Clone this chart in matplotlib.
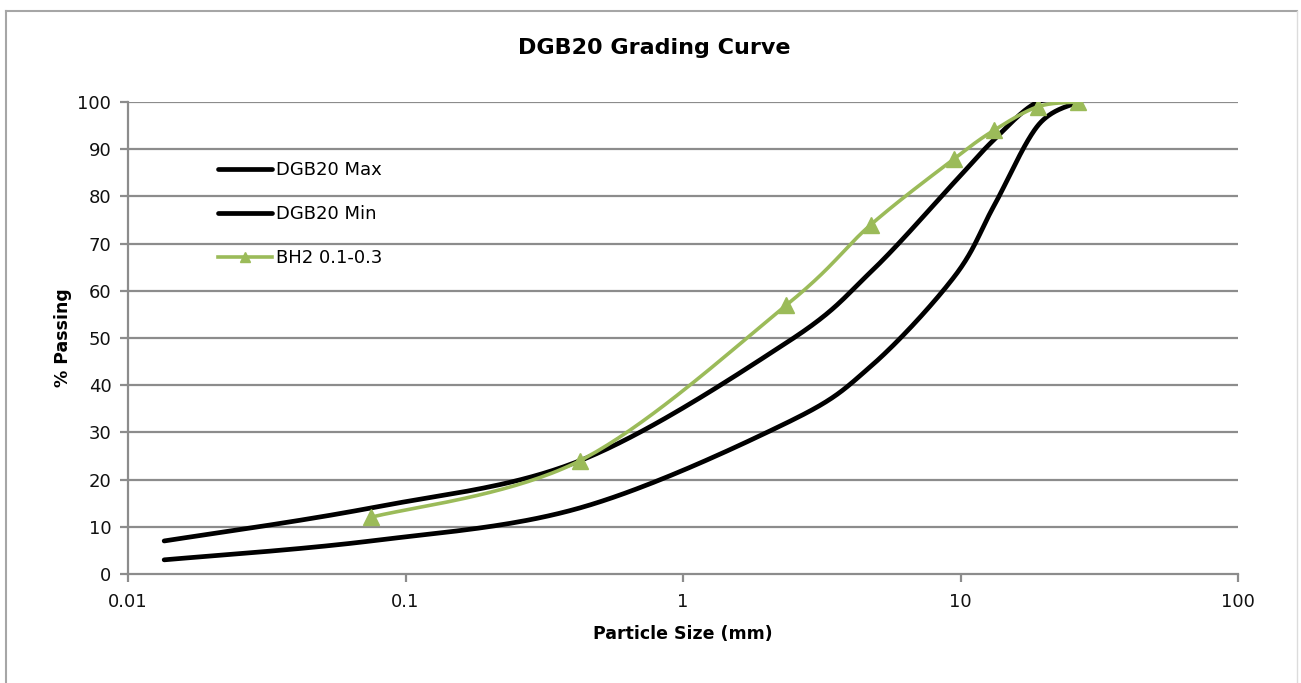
import numpy as np
import matplotlib
matplotlib.use("Agg")
import matplotlib.pyplot as plt
from matplotlib.lines import Line2D
from matplotlib.ticker import FixedLocator, FixedFormatter, NullLocator

# ---- data ----
sieve_env = [0.0135, 0.075, 0.425, 2.36, 4.75, 9.5, 13.2, 19.0, 26.5]
dgb20_max = [7, 14, 24, 49, 64, 83, 92, 100, 100]
dgb20_min = [3, 7, 14, 32, 44, 63, 78, 95, 100]

sieve_bh2 = [0.075, 0.425, 2.36, 4.75, 9.5, 13.2, 19.0, 26.5]
bh2 = [12, 24, 57, 74, 88, 94, 99, 100]

x_ticks = [0.01, 0.1, 1, 10, 100]
x_tick_labels = ["0.01", "0.1", "1", "10", "100"]
y_ticks = list(range(0, 101, 10))

title = "DGB20 Grading Curve"
xlabel = "Particle Size (mm)"
ylabel = "% Passing"
labels = ["DGB20 Max", "DGB20 Min", "BH2 0.1-0.3"]

GREEN = "#9BBB59"
GRID = "#8c8c8c"
FONT = ["DejaVu Sans"]


def smooth(xs, ys, n=40):
    """Excel-like smoothed line (Catmull-Rom Bezier) in log-x space."""
    lx = np.log10(np.asarray(xs, float))
    yy = np.asarray(ys, float)
    P = np.column_stack([lx, yy])
    m = len(P)
    out = []
    for i in range(m - 1):
        p0 = P[i - 1] if i > 0 else P[i]
        p1 = P[i]
        p2 = P[i + 1]
        p3 = P[i + 2] if i + 2 < m else P[i + 1]
        c1 = p1 + (p2 - p0) / 6.0
        c2 = p2 - (p3 - p1) / 6.0
        t = np.linspace(0, 1, n)[:, None]
        seg = ((1 - t) ** 3) * p1 + 3 * ((1 - t) ** 2) * t * c1 + 3 * (1 - t) * t ** 2 * c2 + t ** 3 * p2
        out.append(seg if i == 0 else seg[1:])
    out = np.vstack(out)
    return 10 ** out[:, 0], out[:, 1]


plt.rcParams['font.family'] = FONT

W, H = 1301, 683
fig = plt.figure(figsize=(W / 100, H / 100), dpi=100)
fig.patch.set_facecolor("white")

# outer chart border (left + top grey, right faint)
fig.add_artist(Line2D([6 / W, 6 / W], [0, 1 - 11 / H], transform=fig.transFigure,
                      color="#a6a6a6", lw=1.5))
fig.add_artist(Line2D([6 / W, 1297 / W], [1 - 11 / H, 1 - 11 / H], transform=fig.transFigure,
                      color="#a6a6a6", lw=1.5))
fig.add_artist(Line2D([1297 / W, 1297 / W], [0, 1 - 11 / H], transform=fig.transFigure,
                      color="#dcdcdc", lw=1.0))

ax = fig.add_axes([128 / W, 1 - 574 / H, (1238 - 128) / W, (574 - 102) / H])
ax.set_xscale("log")
ax.set_xlim(0.01, 100)
ax.set_ylim(0, 100)

for yv in y_ticks[1:]:
    ax.axhline(yv, color=GRID, lw=1.6, zorder=1)

xs, ys = smooth(sieve_env, dgb20_max)
l1, = ax.plot(xs, ys, color="black", lw=3.4, solid_capstyle="round", zorder=3)
xs, ys = smooth(sieve_env, dgb20_min)
l2, = ax.plot(xs, ys, color="black", lw=3.4, solid_capstyle="round", zorder=3)
xs, ys = smooth(sieve_bh2, bh2)
ax.plot(xs, ys, color=GREEN, lw=2.6, zorder=4)
ax.plot(sieve_bh2, bh2, linestyle="none", marker="^", ms=12, color=GREEN, zorder=5)
l3, = ax.plot([], [], color=GREEN, lw=2.6, marker="^", ms=7)

for s in ["top", "right"]:
    ax.spines[s].set_visible(False)
for s in ["left", "bottom"]:
    ax.spines[s].set_color(GRID)
    ax.spines[s].set_linewidth(1.6)

ax.xaxis.set_major_locator(FixedLocator(x_ticks))
ax.xaxis.set_major_formatter(FixedFormatter(x_tick_labels))
ax.xaxis.set_minor_locator(NullLocator())
ax.set_yticks(y_ticks)
ax.tick_params(axis="both", which="major", direction="out", length=6, width=1.6,
               color=GRID, labelsize=13, labelcolor="#111111")
ax.tick_params(axis="y", pad=6)
ax.tick_params(axis="x", pad=8)

ax.set_xlabel(xlabel, fontsize=12.5, fontweight="bold", labelpad=10)
ax.set_ylabel(ylabel, fontsize=12.5, fontweight="bold", labelpad=4)
fig.text(654 / W, 1 - 48 / H, title, ha="center", va="center",
         fontsize=16, fontweight="bold")

leg = ax.legend([l1, l2, l3], labels, loc="upper left",
                bbox_to_anchor=((218 - 128) / 1110, (574 - 161) / 472),
                frameon=False, fontsize=13, handlelength=3.0, handletextpad=0.2,
                labelspacing=1.45, borderpad=0, borderaxespad=0)

fig.savefig("out.png", dpi=100, facecolor="white")
